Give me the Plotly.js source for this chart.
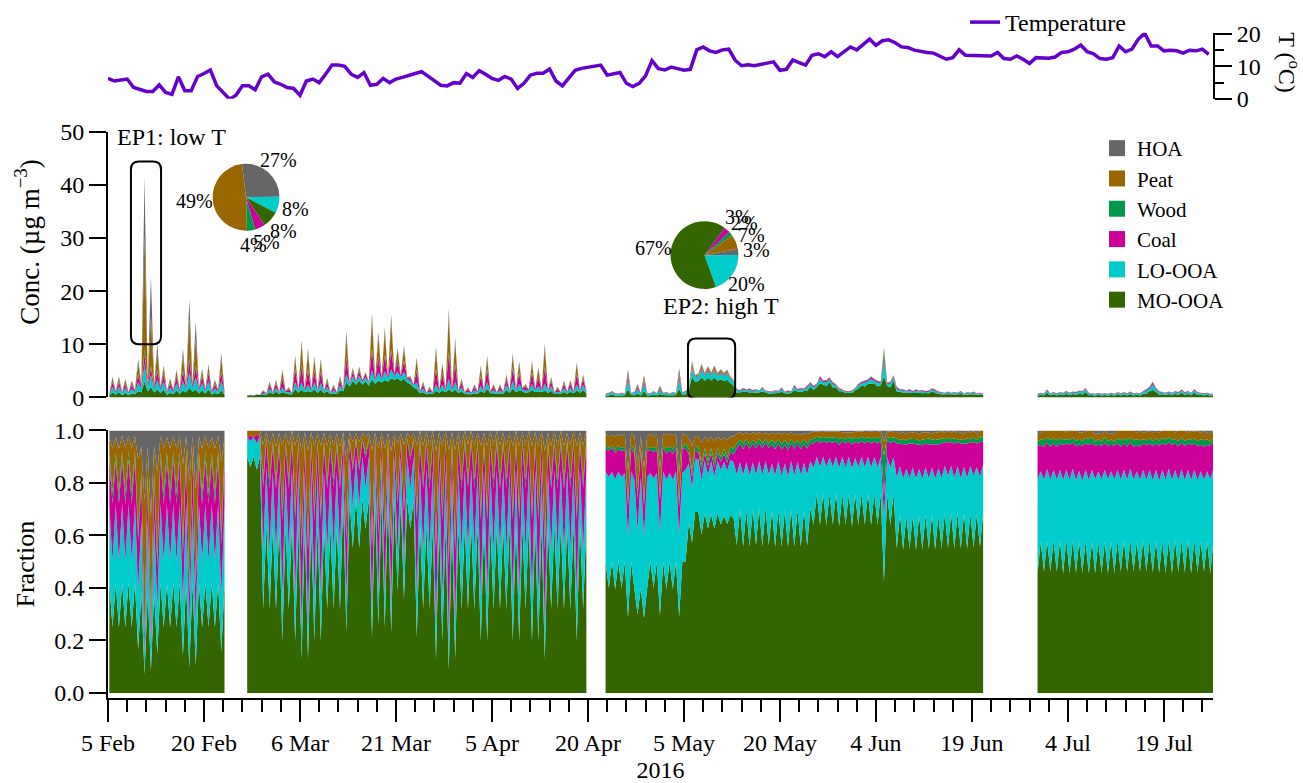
<!DOCTYPE html>
<html><head><meta charset="utf-8">
<script src="https://cdn.plot.ly/plotly-3.0.1.min.js"></script>
<style>html,body{margin:0;padding:0;background:#fff}#chart{width:1303px;height:783px}</style>
</head><body><div id="chart"></div>
<script>
// ---------------- DATA ----------------
const speciesNames  = ['MO-OOA','LO-OOA','Coal','Wood','Peat','HOA'];
const speciesColors = ['#336600','#00cccc','#cc0099','#00994c','#996600','#666666'];

// measurement segments (12-hour samples)
const segmentStarts = ['2016-02-05 05:00:00','2016-02-26 18:00:00','2016-04-22 18:00:00','2016-06-29 06:00:00'];
const segmentCounts = [37, 107, 119, 56];

// concentrations (ug m-3), segments concatenated
const moOOA = [
 0.34,0.98,0.5,1.0,0.42,0.88,0.42,0.8,0.59,1.2, 0.99,3.0,1.14,2.0,0.91,1.5,0.84,1.5,0.5,0.9, 0.63,1.3,0.63,1.3,0.92,1.8,1.05,1.5,0.76,1.35, 0.67,1.55,0.55,0.83,0.63,1.3,0.5,
 0.36,0.43,0.36,0.51,0.45,0.45,0.51,0.96,0.64,1.06, 0.64,1.04,0.77,0.61,0.58,1.58,0.9,1.4,0.96,1.21, 0.96,1.54,0.83,1.46,0.77,1.18,0.64,0.77,0.64,1.31,
 1.18,2.9,2.07,3.1,2.37,3.2,2.44,3.0,2.22,3.4, 2.59,3.2,2.81,3.3,2.96,3.6,3.33,3.6,3.11,3.5, 2.81,2.5,1.85,1.6,0.77,0.96,0.58,0.64,0.64,1.25,
 0.9,1.3,0.96,1.5,1.02,1.46,0.83,1.12,0.64,0.61, 0.58,0.8,0.7,1.2,0.83,1.58,0.77,0.8,0.64,0.8, 0.7,1.38,0.83,1.66,0.96,1.36,1.15,0.8,0.96,1.38,
 1.02,1.14,0.96,1.31,0.83,1.25,0.64,0.64,0.64,1.02, 0.7,1.06,0.77,1.32,0.9,1.38,0.77,
 0.35,0.36,0.6,0.32,0.35,0.36,0.4,1.5,0.45,0.4, 0.75,0.36,1.2,0.36,0.4,0.48,0.4,0.65,0.45,0.4, 0.4,0.4,0.45,1.6,0.5,0.6,1.3,3.9,2.9,3.1,
 3.8,3.15,3.7,3.2,3.75,3.15,3.4,3.1,3.35,2.7, 2.2,0.9,0.98,1.01,1.05,0.95,0.98,0.9,0.91,1.12, 0.91,0.67,0.77,0.78,0.84,1.06,0.77,0.73,0.84,1.34,
 1.12,1.01,1.19,1.23,2.03,1.41,1.98,2.62,2.43,2.11, 2.89,1.86,1.9,1.15,1.14,0.77,0.91,0.83,1.37,1.66, 2.28,2.05,2.58,2.56,2.66,2.05,2.28,4.0,2.13,1.92,
 3.19,1.1,1.09,0.83,0.88,0.88,0.82,0.83,0.88,0.77, 0.82,0.72,1.16,0.83,0.75,0.55,0.61,0.61,0.61,0.55, 0.61,0.66,0.54,0.55,0.61,0.61,0.54,0.5,0.48,
 0.32,0.52,0.37,0.87,0.37,0.58,0.37,0.58,0.41,0.7, 0.41,0.64,0.46,0.75,0.55,1.04,0.41,0.46,0.32,0.52, 0.32,0.46,0.32,0.52,0.32,0.58,0.37,0.58,0.37,0.64,
 0.37,0.52,0.37,0.7,0.74,1.16,1.38,1.04,0.55,0.58, 0.41,0.64,0.41,0.7,0.46,0.87,0.46,0.7,0.41,0.93, 0.46,0.52,0.37,0.52,0.32,0.41
];
const loOOA = [
 0.24,0.98,0.36,1.0,0.3,0.88,0.3,0.8,0.42,1.6, 0.73,3.2,0.84,2.2,0.67,1.8,0.6,1.5,0.36,0.9, 0.45,1.3,0.45,1.8,0.66,3.0,0.75,2.3,0.54,1.35, 0.48,1.55,0.39,0.83,0.45,1.8,0.36,
 0.03,0.05,0.03,0.06,0.04,0.31,0.17,0.66,0.21,0.73, 0.21,0.88,0.25,0.42,0.19,1.34,0.29,1.4,0.32,1.21, 0.32,1.31,0.27,1.24,0.25,0.81,0.21,0.53,0.21,0.9,
 0.26,1.5,0.45,0.85,0.51,0.9,0.53,0.75,0.48,1.7, 0.56,1.5,0.61,1.6,0.64,1.7,0.72,1.3,0.67,1.3, 0.61,0.6,0.4,1.2,0.25,0.66,0.19,0.44,0.21,1.25,
 0.29,1.1,0.32,2.0,0.34,1.46,0.27,0.77,0.21,0.42, 0.19,0.55,0.23,1.02,0.27,1.34,0.25,0.55,0.21,0.55, 0.23,0.95,0.27,1.41,0.32,1.16,0.38,0.55,0.32,1.17,
 0.34,0.97,0.32,1.31,0.27,0.86,0.21,0.44,0.21,0.7, 0.23,0.73,0.25,1.12,0.29,0.95,0.25,
 0.24,0.38,0.41,0.34,0.24,0.38,0.27,1.6,0.31,0.42, 0.8,0.38,1.3,0.38,0.27,0.5,0.27,0.7,0.31,0.42, 0.27,0.42,0.31,1.7,0.34,0.42,0.45,1.4,0.85,0.9,
 1.3,0.92,1.2,0.95,1.2,0.92,1.1,0.95,1.05,0.85, 0.7,0.43,0.25,0.49,0.27,0.46,0.25,0.43,0.23,0.54, 0.23,0.32,0.2,0.38,0.22,0.51,0.2,0.35,0.22,0.65,
 0.29,0.49,0.31,0.59,0.52,0.48,0.36,0.9,0.45,0.73, 0.53,0.64,0.35,0.4,0.21,0.26,0.17,0.29,0.25,0.57, 0.42,0.7,0.48,0.88,0.49,0.7,0.42,2.3,0.39,0.66,
 0.59,0.54,0.29,0.41,0.23,0.43,0.22,0.41,0.23,0.38, 0.22,0.35,0.31,0.41,0.2,0.27,0.16,0.3,0.16,0.27, 0.16,0.32,0.14,0.27,0.16,0.3,0.14,0.24,0.13,
 0.25,0.24,0.28,0.41,0.28,0.27,0.28,0.27,0.32,0.32, 0.32,0.3,0.35,0.35,0.42,0.49,0.32,0.22,0.25,0.24, 0.25,0.22,0.25,0.24,0.25,0.27,0.28,0.27,0.28,0.3,
 0.28,0.24,0.28,0.32,0.56,0.54,1.05,0.49,0.42,0.27, 0.32,0.3,0.32,0.32,0.35,0.41,0.35,0.32,0.32,0.43, 0.35,0.24,0.28,0.24,0.25,0.19
];
const coal = [
 0.14,0.86,0.2,0.88,0.17,0.77,0.17,0.7,0.24,1.4, 0.39,2.0,0.45,1.3,0.36,1.6,0.34,1.32,0.2,0.79, 0.26,1.14,0.26,1.7,0.37,2.2,0.43,1.9,0.31,1.19, 0.27,1.36,0.22,0.73,0.26,1.6,0.2,
 0,0.01,0,0.02,0,0.34,0.08,0.72,0.1,0.79, 0.1,1.51,0.12,0.46,0.09,2.3,0.14,3.04,0.15,2.62, 0.15,2.24,0.13,2.12,0.12,0.89,0.1,0.58,0.1,0.98,
 0.1,2.86,0.17,0.8,0.19,0.82,0.2,0.55,0.18,3.7, 0.21,2.76,0.23,2.9,0.24,3.42,0.27,1.82,0.25,1.96, 0.23,0.45,0.15,2.14,0.12,0.72,0.09,0.48,0.1,2.71,
 0.14,1.89,0.15,4.64,0.16,3.16,0.13,0.84,0.1,0.46, 0.09,0.6,0.11,1.74,0.13,2.29,0.12,0.6,0.1,0.6, 0.11,1.03,0.13,2.41,0.15,1.97,0.18,0.6,0.15,2.01,
 0.16,1.66,0.15,2.85,0.13,0.94,0.1,0.48,0.1,0.77, 0.11,0.79,0.12,1.91,0.14,1.03,0.12,
 0.06,0.09,0.11,0.08,0.06,0.09,0.07,0.6,0.08,0.1, 0.3,0.09,0.5,0.09,0.07,0.12,0.07,0.27,0.08,0.1, 0.07,0.1,0.08,0.6,0.09,0.1,0.07,0.3,0.12,0.13,
 0.25,0.13,0.2,0.14,0.2,0.13,0.16,0.14,0.16,0.12, 0.1,0.16,0.1,0.18,0.11,0.17,0.1,0.16,0.09,0.2, 0.09,0.12,0.08,0.14,0.08,0.19,0.08,0.13,0.08,0.24,
 0.11,0.18,0.12,0.22,0.2,0.2,0.16,0.37,0.19,0.3, 0.23,0.26,0.15,0.16,0.09,0.11,0.07,0.12,0.11,0.23, 0.18,0.29,0.2,0.36,0.21,0.29,0.18,0.7,0.17,0.27,
 0.25,0.26,0.14,0.2,0.12,0.21,0.11,0.2,0.12,0.18, 0.11,0.17,0.15,0.2,0.1,0.13,0.08,0.14,0.08,0.13, 0.08,0.16,0.07,0.13,0.08,0.14,0.07,0.12,0.06,
 0.09,0.09,0.1,0.15,0.1,0.1,0.1,0.1,0.12,0.12, 0.12,0.11,0.13,0.13,0.16,0.18,0.12,0.08,0.09,0.09, 0.09,0.08,0.09,0.09,0.09,0.1,0.1,0.1,0.1,0.11,
 0.1,0.09,0.1,0.12,0.21,0.2,0.39,0.18,0.16,0.1, 0.12,0.11,0.12,0.12,0.13,0.15,0.13,0.12,0.12,0.16, 0.13,0.09,0.1,0.09,0.09,0.07
];
const wood = [
 0.02,0.16,0.04,0.16,0.03,0.14,0.03,0.13,0.04,0.25, 0.08,0.8,0.09,0.5,0.07,0.3,0.06,0.24,0.04,0.14, 0.04,0.21,0.04,0.3,0.07,0.4,0.07,0.3,0.05,0.22, 0.05,0.25,0.04,0.13,0.04,0.3,0.04,
 0,0,0,0,0,0.04,0.01,0.09,0.02,0.1, 0.02,0.16,0.02,0.06,0.01,0.24,0.02,0.32,0.02,0.28, 0.02,0.23,0.02,0.22,0.02,0.11,0.02,0.07,0.02,0.12,
 0.02,0.2,0.03,0.1,0.03,0.1,0.03,0.07,0.03,0.4, 0.04,0.3,0.04,0.3,0.04,0.35,0.05,0.2,0.04,0.2, 0.04,0.05,0.03,0.22,0.02,0.09,0.01,0.06,0.02,0.29,
 0.02,0.2,0.02,0.4,0.02,0.34,0.02,0.1,0.02,0.06, 0.01,0.08,0.02,0.18,0.02,0.24,0.02,0.08,0.02,0.08, 0.02,0.13,0.02,0.25,0.02,0.2,0.03,0.08,0.02,0.21,
 0.02,0.17,0.02,0.3,0.02,0.12,0.02,0.06,0.02,0.1, 0.02,0.1,0.02,0.2,0.02,0.13,0.02,
 0.01,0.01,0.01,0.01,0.01,0.01,0.01,0.1,0.01,0.02, 0.05,0.01,0.08,0.01,0.01,0.02,0.01,0.04,0.01,0.02, 0.01,0.02,0.01,0.1,0.01,0.02,0.04,0.15,0.08,0.09,
 0.13,0.09,0.12,0.09,0.12,0.09,0.1,0.09,0.1,0.08, 0.07,0.03,0.02,0.04,0.02,0.03,0.02,0.03,0.02,0.04, 0.02,0.02,0.02,0.03,0.02,0.04,0.02,0.03,0.02,0.05,
 0.02,0.04,0.03,0.04,0.04,0.04,0.04,0.08,0.05,0.07, 0.06,0.06,0.04,0.04,0.02,0.02,0.02,0.03,0.03,0.05, 0.05,0.06,0.05,0.08,0.05,0.06,0.05,1.5,0.04,0.06,
 0.06,0.04,0.02,0.03,0.02,0.03,0.02,0.03,0.02,0.03, 0.02,0.03,0.03,0.03,0.02,0.02,0.01,0.02,0.01,0.02, 0.01,0.02,0.01,0.02,0.01,0.02,0.01,0.02,0.01,
 0.01,0.02,0.02,0.03,0.02,0.02,0.02,0.02,0.02,0.02, 0.02,0.02,0.02,0.03,0.02,0.04,0.02,0.02,0.01,0.02, 0.01,0.02,0.01,0.02,0.01,0.02,0.02,0.02,0.02,0.02,
 0.02,0.02,0.02,0.02,0.03,0.04,0.06,0.04,0.02,0.02, 0.02,0.02,0.02,0.02,0.02,0.03,0.02,0.02,0.02,0.03, 0.02,0.02,0.02,0.02,0.01,0.01
];
const peat = [
 0.05,0.66,0.07,0.68,0.06,0.6,0.06,0.54,0.08,1.95, 0.26,21.5,0.3,9.3,0.24,3.3,0.12,1.02,0.07,0.61, 0.09,0.88,0.09,2.8,0.13,7.5,0.15,5.0,0.11,0.92, 0.1,1.05,0.08,0.56,0.09,2.3,0.07,
 0.01,0.01,0.01,0.01,0.01,0.18,0.02,0.39,0.03,0.43, 0.03,1.3,0.04,0.25,0.03,1.98,0.04,3.78,0.05,3.26, 0.05,1.93,0.04,1.83,0.04,0.48,0.03,0.31,0.03,0.53,
 0.03,3.6,0.06,0.5,0.06,0.52,0.07,0.3,0.06,5.5, 0.07,3.7,0.08,4.1,0.08,5.3,0.09,1.9,0.08,2.3, 0.08,0.28,0.05,1.9,0.04,0.39,0.03,0.26,0.03,3.36,
 0.04,1.62,0.05,6.9,0.05,3.92,0.04,0.46,0.03,0.25, 0.03,0.33,0.03,1.5,0.04,1.98,0.04,0.33,0.03,0.33, 0.03,0.56,0.04,2.08,0.05,1.7,0.05,0.33,0.05,1.72,
 0.05,1.42,0.05,3.54,0.04,0.5,0.03,0.26,0.03,0.42, 0.03,0.43,0.04,1.65,0.04,0.56,0.04,
 0.03,0.04,0.05,0.04,0.03,0.04,0.04,0.6,0.04,0.05, 0.25,0.04,0.5,0.04,0.04,0.05,0.04,0.22,0.04,0.05, 0.04,0.05,0.04,0.6,0.05,0.04,0.08,0.65,0.16,0.18,
 0.52,0.2,0.45,0.2,0.48,0.2,0.35,0.2,0.35,0.16, 0.15,0.06,0.04,0.06,0.04,0.06,0.04,0.06,0.03,0.07, 0.03,0.04,0.03,0.05,0.03,0.07,0.03,0.05,0.03,0.08,
 0.04,0.06,0.04,0.08,0.07,0.06,0.05,0.1,0.06,0.08, 0.08,0.07,0.05,0.05,0.03,0.03,0.02,0.03,0.04,0.07, 0.06,0.08,0.07,0.1,0.07,0.08,0.06,0.5,0.06,0.08,
 0.08,0.05,0.04,0.04,0.03,0.04,0.03,0.04,0.03,0.04, 0.03,0.03,0.04,0.04,0.03,0.03,0.02,0.03,0.02,0.03, 0.02,0.03,0.02,0.03,0.02,0.03,0.02,0.02,0.02,
 0.02,0.02,0.03,0.04,0.03,0.03,0.03,0.03,0.03,0.03, 0.03,0.03,0.04,0.03,0.04,0.04,0.03,0.02,0.02,0.02, 0.02,0.02,0.02,0.02,0.02,0.03,0.03,0.03,0.03,0.03,
 0.03,0.02,0.03,0.03,0.05,0.05,0.1,0.04,0.04,0.03, 0.03,0.03,0.03,0.03,0.04,0.04,0.04,0.03,0.03,0.04, 0.04,0.02,0.03,0.02,0.02,0.02
];
const hoa = [
 0.02,0.27,0.03,0.28,0.02,0.24,0.02,0.22,0.03,0.8, 0.16,11.0,0.18,7.5,0.14,1.6,0.04,0.42,0.03,0.25, 0.03,0.36,0.03,1.2,0.04,3.6,0.05,3.2,0.04,0.38, 0.03,0.43,0.03,0.23,0.03,1.0,0.03,
 0,0,0,0,0,0.08,0,0.18,0.01,0.2, 0.01,0.31,0.01,0.11,0,0.47,0.01,0.84,0.01,0.72, 0.01,0.46,0.01,0.44,0.01,0.22,0.01,0.14,0.01,0.25,
 0.01,1.44,0.02,0.25,0.03,0.26,0.03,0.13,0.03,1.2, 0.03,0.84,0.03,0.9,0.04,1.23,0.04,0.48,0.05,0.54, 0.03,0.12,0.02,0.44,0,0.18,0,0.12,0,0.74,
 0.01,0.39,0,1.26,0.01,0.86,0.01,0.21,0,0.1, 0,0.14,0.01,0.36,0.01,0.47,0,0.14,0,0.14, 0.01,0.25,0.01,0.49,0,0.41,0.01,0.14,0,0.41,
 0.01,0.34,0,0.79,0.01,0.23,0,0.12,0,0.19, 0.01,0.19,0,0.4,0.01,0.25,0,
 0.01,0.02,0.02,0.02,0.01,0.02,0.01,0.8,0.01,0.02, 0.35,0.02,0.62,0.02,0.01,0.03,0.01,0.32,0.01,0.02, 0.01,0.02,0.01,0.9,0.01,0.02,0.06,0.4,0.09,0.1,
 0.3,0.11,0.23,0.12,0.25,0.11,0.19,0.12,0.19,0.09, 0.08,0.02,0.01,0.03,0.01,0.03,0.01,0.02,0.01,0.03, 0.01,0.02,0.01,0.02,0.01,0.03,0.01,0.02,0.01,0.04,
 0.02,0.03,0.02,0.03,0.03,0.01,0.01,0.02,0.02,0.01, 0.02,0.01,0.01,0.01,0.01,0.01,0.01,0.01,0.01,0.01, 0.01,0.02,0.02,0.02,0.02,0.02,0.01,0.4,0.01,0.01,
 0.03,0.01,0.02,0.01,0.02,0.01,0.01,0.01,0.02,0.01, 0.01,0.01,0.02,0.01,0.01,0,0.01,0,0.01,0, 0.01,0.01,0.01,0,0.01,0,0.01,0,0,
 0.01,0.01,0,0,0,0,0,0,0,0.01, 0,0,0,0.01,0.01,0.01,0,0,0.01,0.01, 0.01,0,0.01,0.01,0.01,0,0,0,0,0,
 0,0.01,0,0.01,0.01,0.01,0.02,0.01,0.01,0, 0,0,0,0.01,0,0,0,0.01,0,0.01, 0,0.01,0,0.01,0.01,0
];

// daily mean temperature (deg C) from 5 Feb 2016
const tempStart = '2016-02-05 00:00:00';
const temperature = [
 6.3,5.5,5.8,6.1,3.5,2.8,2.3,2.3,4.3,2.0, 1.4,6.8,2.5,2.5,6.9,7.8,8.9,4.0,1.8,-0.1,
 1.1,4.0,4.0,2.8,6.8,7.6,5.2,4.5,3.5,3.2, 1.1,5.5,6.1,5.0,7.6,10.4,10.4,10.0,7.6,6.6,
 8.1,4.2,4.5,6.3,5.0,6.1,6.6,7.3,7.8,8.4, 7.1,5.5,4.2,4.0,5.0,4.8,7.8,6.6,8.7,7.6,
 6.3,5.7,6.9,6.1,3.2,4.8,7.3,7.9,7.9,9.2, 5.5,4.0,6.4,8.8,9.4,9.7,9.9,10.4,7.3,7.6,
 8.1,4.8,3.8,4.8,7.1,11.8,9.3,8.9,9.8,9.3, 8.8,9.1,15.1,16.0,14.8,14.3,15.1,15.3,11.9,10.2,
 10.5,10.2,10.7,11.0,11.4,8.8,9.1,12.0,11.2,10.4, 13.4,13.9,13.0,14.5,13.0,14.5,16.0,15.1,16.8,18.4,
 16.5,17.9,18.2,17.3,16.0,15.8,15.0,14.6,14.3,14.1, 13.2,12.2,12.7,15.1,13.4,13.4,13.3,13.2,13.2,14.3,
 12.4,12.2,13.2,12.2,10.9,12.7,12.7,12.5,12.9,14.3, 14.5,15.3,16.6,14.5,13.9,12.4,12.2,12.7,16.3,14.5,
 15.3,18.4,20.2,16.3,16.3,14.8,15.0,14.8,14.1,15.0, 14.8,15.3,13.7
];

// pie charts: average composition (%) of the two episodes
const pieLabels = ['HOA','LO-OOA','MO-OOA','Coal','Wood','Peat'];
const pieColors = ['#666666','#00cccc','#336600','#cc0099','#00994c','#996600'];
const pieEP1 = [27, 8, 8, 5, 4, 49];
const pieEP2 = [3, 20, 67, 3, 2, 7];

// episode windows [start, end, conc low, conc high] and labels
const ep1Window = ['2016-02-08 14:00:00','2016-02-13 07:00:00', 10.0, 44.4];
const ep2Window = ['2016-05-05 15:00:00','2016-05-13 00:00:00', -0.2, 11.1];
const ep1Label = ['2016-02-14 22:00:00', 49.0, 'EP1: low T'];
const ep2Label = ['2016-05-10 19:00:00', 17.3, 'EP2: high T'];

// legend order (top to bottom)
const legendOrder = ['HOA','Peat','Wood','Coal','LO-OOA','MO-OOA'];

// ---------------- BUILD ----------------
const FONT = 'Liberation Serif, Times New Roman, serif';
const H12 = 12*3600*1000, DAY = 24*3600*1000;
const M = {l:108, r:90, t:0, b:85};
const W = 1303, H = 783, plotW = W - M.l - M.r, plotH = H - M.t - M.b;
function toMs(s){const [d,t='00:00:00']=s.split(' ');const [Y,Mo,D]=d.split('-').map(Number);const [h,m,sec]=t.split(':').map(Number);return Date.UTC(Y,Mo-1,D,h,m,sec||0);}
function fmt(ms){return new Date(ms).toISOString().slice(0,19).replace('T',' ');}
function fmtU(ms){return fmt(ms).replace(' ','_');}

const series = [moOOA, loOOA, coal, wood, peat, hoa];
const traces = [];

let off = 0;
segmentStarts.forEach((st, s) => {
  const n = segmentCounts[s];
  const t0 = toMs(st);
  const xs = [];
  for (let i = 0; i < n; i++) xs.push(fmt(t0 + i*H12));
  series.forEach((arr, k) => {
    traces.push({type:'scatter', x: xs, y: arr.slice(off, off+n), xaxis:'x', yaxis:'y2',
      stackgroup:'c'+s, mode:'none', fillcolor: speciesColors[k], name: speciesNames[k],
      showlegend:false, hoverinfo:'skip'});
  });
  series.forEach((arr, k) => {
    const tr = {type:'scatter', x: xs, y: arr.slice(off, off+n), xaxis:'x', yaxis:'y3',
      stackgroup:'f'+s, mode:'none', fillcolor: speciesColors[k], name: speciesNames[k],
      showlegend:false, hoverinfo:'skip'};
    if (k === 0) tr.groupnorm = 'fraction';
    traces.push(tr);
  });
  off += n;
});

// legend entries (square swatches)
legendOrder.forEach(name => {
  const k = speciesNames.indexOf(name);
  traces.push({type:'scatter', mode:'markers', x:[tempStart], y:[null], xaxis:'x', yaxis:'y2',
    marker:{symbol:'square', size:16, color: speciesColors[k]}, name: name, legend:'legend',
    showlegend:true, hoverinfo:'skip'});
});

// temperature
const tx = []; const ts0 = toMs(tempStart);
for (let i = 0; i < temperature.length; i++) tx.push(fmt(ts0 + i*DAY));
traces.push({type:'scatter', mode:'lines', x: tx, y: temperature, xaxis:'x', yaxis:'y',
  line:{color:'#6600cc', width:3.5}, name:'Temperature', legend:'legend2', hoverinfo:'skip'});

// pies
const pie1Dom = {x:[0.0946,0.1552], y:[0.6705,0.7665]}, pie1Rot = -7;
const pie2Dom = {x:[0.5090,0.5706], y:[0.5867,0.6841]}, pie2Rot = 79;
function pie(values, dom, rot){
  return {type:'pie', labels: pieLabels, values: values, sort:false, direction:'clockwise', rotation: rot,
    marker:{colors: pieColors, line:{width:0}}, domain: dom, textinfo:'none', showlegend:false, hoverinfo:'skip'};
}
traces.push(pie(pieEP1, pie1Dom, pie1Rot));
traces.push(pie(pieEP2, pie2Dom, pie2Rot));

// percentage labels placed radially just outside each slice
function pieLabelAnnotations(values, dom, rot){
  const total = values.reduce((a,b)=>a+b, 0);
  const cx = (dom.x[0]+dom.x[1])/2, cy = (dom.y[0]+dom.y[1])/2;
  const r = Math.min((dom.x[1]-dom.x[0])*plotW, (dom.y[1]-dom.y[0])*plotH)/2;
  let a = rot;
  return values.map(v => {
    const span = v/total*360, mid = (a + span/2)*Math.PI/180; a += span;
    const d = r + 14 + 4*Math.abs(Math.sin(mid));
    return {xref:'paper', yref:'paper', x: cx + d*Math.sin(mid)/plotW, y: cy + d*Math.cos(mid)/plotH,
      text: v + '%', showarrow:false, xanchor:'center', yanchor:'middle',
      font:{family:FONT, size:20, color:'black'}};
  });
}

function roundedPath(w){
  const x0 = toMs(w[0]), x1 = toMs(w[1]), y0 = w[2], y1 = w[3];
  const rx = 1.25*DAY, ry = 1.5;
  const X = fmtU;
  return `M${X(x0+rx)},${y0} L${X(x1-rx)},${y0} Q${X(x1)},${y0} ${X(x1)},${y0+ry} L${X(x1)},${y1-ry} Q${X(x1)},${y1} ${X(x1-rx)},${y1} L${X(x0+rx)},${y1} Q${X(x0)},${y1} ${X(x0)},${y1-ry} L${X(x0)},${y0+ry} Q${X(x0)},${y0} ${X(x0+rx)},${y0} Z`;
}

const axisCommon = {showline:true, linewidth:2, linecolor:'black', ticks:'outside', tickwidth:2, tickcolor:'black',
  showgrid:false, zeroline:false, tickfont:{family:FONT, size:24, color:'black'}};

const layout = {
  width:W, height:H,
  margin:{l:M.l, r:M.r, t:M.t, b:M.b, pad:0},
  paper_bgcolor:'white', plot_bgcolor:'white',
  font:{family:FONT, size:24, color:'black'},
  showlegend:true,
  xaxis: Object.assign({}, axisCommon, {type:'date', anchor:'y3',
    range:['2016-02-05 00:00:00','2016-07-26 16:00:00'],
    tick0:'2016-02-05', dtick:15*DAY, tickformat:'%-d %b', ticklen:22,
    minor:{ticks:'outside', tick0:'2016-02-05', dtick:3*DAY, ticklen:12, tickwidth:2, tickcolor:'black', showgrid:false},
    title:{text:'2016', standoff:6, font:{family:FONT, size:24, color:'black'}}}),
  yaxis: Object.assign({}, axisCommon, {domain:[0.8596,0.9546], range:[0,20.4], side:'right', anchor:'x',
    tickvals:[0,10,20], ticklen:17,
    minor:{ticks:'outside', tickvals:[5,15], ticklen:9, tickwidth:2, tickcolor:'black', showgrid:false}}),
  yaxis2: Object.assign({}, axisCommon, {domain:[0.43123,0.81232], range:[0,50], anchor:'x', dtick:10, ticklen:17}),
  yaxis3: Object.assign({}, axisCommon, {domain:[0,0.38395], range:[-0.019,1.0], anchor:'x',
    tickvals:[0,0.2,0.4,0.6,0.8,1.0], tickformat:'.1f', ticklen:17,
    title:{text:'Fraction', standoff:12, font:{family:FONT, size:26, color:'black'}}}),
  legend:{x:0.895, y:0.8166, xanchor:'left', yanchor:'top', traceorder:'normal', bgcolor:'rgba(0,0,0,0)',
    font:{family:FONT, size:21, color:'black'}, itemsizing:'trace'},
  legend2:{x:0.7756, y:0.9685, xanchor:'left', yanchor:'middle', bgcolor:'rgba(0,0,0,0)',
    font:{family:FONT, size:24, color:'black'}},
  shapes:[
    {type:'path', xref:'x', yref:'y2', path: roundedPath(ep1Window), line:{color:'black', width:2}, layer:'above'},
    {type:'path', xref:'x', yref:'y2', path: roundedPath(ep2Window), line:{color:'black', width:2}, layer:'above'}
  ],
  annotations:[
    {xref:'x', yref:'y2', x: ep1Label[0], y: ep1Label[1], text: ep1Label[2], showarrow:false, xanchor:'center', yanchor:'middle', font:{family:FONT, size:24, color:'black'}},
    {xref:'x', yref:'y2', x: ep2Label[0], y: ep2Label[1], text: ep2Label[2], showarrow:false, xanchor:'center', yanchor:'middle', font:{family:FONT, size:24, color:'black'}},
    {xref:'paper', yref:'paper', x:-0.0733, y:0.6533, text:'Conc. (µg m<sup>−3</sup>)', textangle:-90, showarrow:false, xanchor:'center', yanchor:'middle', font:{family:FONT, size:27, color:'black'}},
    {xref:'paper', yref:'paper', x:1.0686, y:0.911, text:'T (<sup>o</sup>C)', textangle:90, showarrow:false, xanchor:'center', yanchor:'middle', font:{family:FONT, size:24, color:'black'}}
  ].concat(pieLabelAnnotations(pieEP1, pie1Dom, pie1Rot), pieLabelAnnotations(pieEP2, pie2Dom, pie2Rot))
};

Plotly.newPlot('chart', traces, layout, {displayModeBar:false, staticPlot:true});
</script>
</body></html>
